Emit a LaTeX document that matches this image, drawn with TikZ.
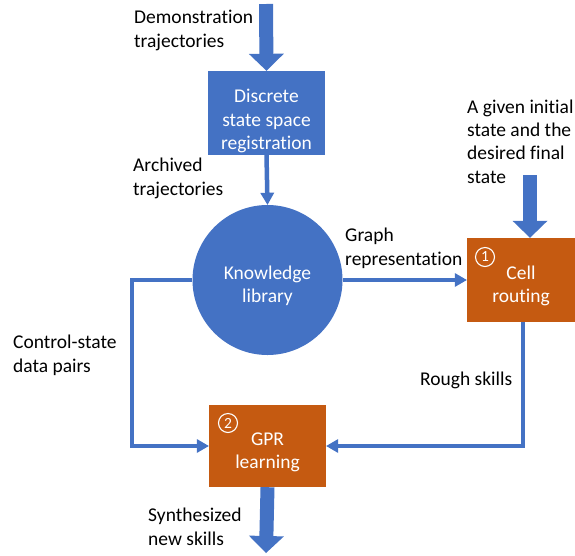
\documentclass[tikz,border=0pt]{standalone}
\usepackage{fontspec}
\setmainfont{Carlito}[Ligatures=NoCommon]
\usetikzlibrary{arrows.meta,positioning}

\definecolor{flowblue}{HTML}{4472C4}
\definecolor{flowrust}{HTML}{C55A11}

\newcommand{\flowfont}{\fontsize{19.5}{23.3}\selectfont}

\tikzset{
  lbl/.style={font=\flowfont, align=left, inner sep=0pt, anchor=base west},
  stagebox/.style={fill=#1, inner sep=0pt, minimum width=117pt, minimum height=84pt},
  stagetext/.style={text=white, align=center, inner sep=0pt, font=\flowfont},
  stepno/.style={circle, draw=white, line width=1.1pt, text=white, inner sep=0pt,
    minimum size=19pt, font=\fontsize{15.5}{15.5}\selectfont},
  thinflow/.style={draw=flowblue, line width=4.5pt,
    -{Triangle[length=12pt,width=14pt,line width=0pt]}},
  bigflow/.style={draw=flowblue, line width=14pt,
    -{Triangle[length=17pt,width=35pt,line width=0pt]}}
}

\begin{document}
\begin{tikzpicture}[x=1pt,y=-1pt]
\useasboundingbox (0,0) rectangle (575,555);

% Stages.
\node[stagebox=flowblue] (registr) at (266.5,113) {};
\node[stagetext] (registrtxt) at ([yshift=-8pt]registr.center) {Discrete\\state space\\registration};
\node[circle, fill=flowblue, minimum size=150pt, inner sep=0pt] (library) at (267.5,280) {};
\node[stagetext] (librarytxt) at ([yshift=-6pt]library.center) {Knowledge\\library};
\node[stagebox=flowrust, minimum width=108pt] (routing) at (521,280) {};
\node[stagetext] (routingtxt) at ([yshift=-6pt]routing.center) {Cell\\routing};
\node[stagebox=flowrust, minimum height=82pt] (gpr) at (267.5,446) {};
\node[stagetext] (gprtxt) at ([yshift=-6pt]gpr.center) {GPR\\learning};
\node[stepno] (no1) at (485,257) {1};
\node[stepno] (no2) at (228,423) {2};

% Free ends of the big arrows.
\coordinate (demoin) at (266,4);
\coordinate (goalin) at (530,175);
\coordinate (skillout) at (266,553);

% Big inputs and output.
\draw[bigflow] (demoin) -- (registr.north);
\draw[bigflow] (goalin) -- (goalin |- routing.north);
\draw[bigflow] (gpr.south) -- (skillout);

% Thin connectors.
\draw[thinflow] (registr.south) -- (library.north);
\draw[thinflow] (library.east) -- (routing.west);
\draw[thinflow] (library.west) -- (132,280) |- (gpr.west);
\draw[thinflow] ([xshift=2pt]routing.south) |- (gpr.east);

% Labels (anchored on the baseline of their last line).
\node[lbl] (demolbl) at (134,47) {Demonstration\\trajectories};
\node[lbl] (archlbl) at (133,195) {Archived\\trajectories};
\node[lbl] (graphlbl) at (345,265) {Graph\\representation};
\node[lbl] (goallbl) at (467,183) {A given initial\\state and the\\desired final\\state};
\node[lbl] (pairlbl) at (13,372) {Control-state\\data pairs};
\node[lbl] (roughlbl) at (420,385) {Rough skills};
\node[lbl] (synthlbl) at (148,545) {Synthesized\\new skills};
\end{tikzpicture}
\end{document}
